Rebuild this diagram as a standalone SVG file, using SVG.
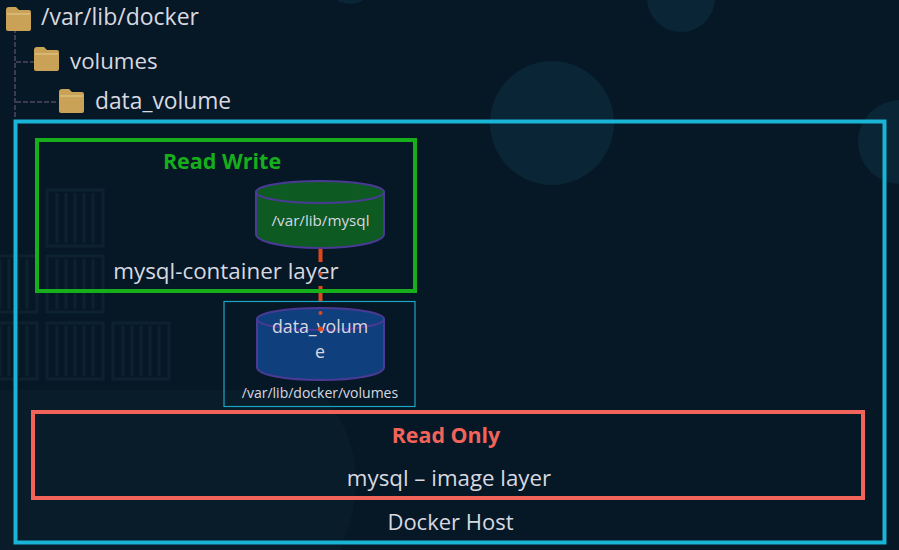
<svg xmlns="http://www.w3.org/2000/svg" width="899" height="550" viewBox="0 0 899 550">
<style>
text{font-family:"Open Sans","Noto Sans","Liberation Sans",sans-serif;fill:#d8d8e0}
.c{text-anchor:middle}
.bg{fill:#0a2536}
.crate{fill:none;stroke:#0c2231;stroke-width:3}
.slat{stroke:#0c2231;stroke-width:3}
.cyl{stroke:#4a3a96;stroke-width:2}
.folder{fill:#c9a257}
.tree{fill:none;stroke:#4f4763;stroke-width:1.5;stroke-dasharray:5 2}
.link{fill:none;stroke:#e0481a;stroke-width:4}
</style>
<defs>
<g id="crate"><rect class="crate" x="0" y="0" width="56" height="56"/><path class="slat" d="M10 3V53M19 3V53M28 3V53M37 3V53M46 3V53"/></g>
<g id="fld"><path class="folder" d="M0 4q0-3 3-3h7l3 3h10q2 0 2 2v17q0 2-2 2H2q-2 0-2-2z"/><path d="M1 8H24" stroke="#e6cd8e" stroke-width="1"/></g>
</defs>
<rect width="899" height="550" fill="#061826"/>
<g id="background">
<circle class="bg" cx="552" cy="123" r="62"/>
<circle class="bg" cx="681" cy="-2" r="34"/>
<circle class="bg" cx="350" cy="-20" r="24"/>
<circle class="bg" cx="900" cy="142" r="42"/>
<path d="M0 390H320Q380 460 340 550H0z" fill="#081c2a"/>
<use href="#crate" x="47" y="190"/><use href="#crate" x="47" y="256"/><use href="#crate" x="47" y="323"/>
<use href="#crate" x="-19" y="256"/><use href="#crate" x="-19" y="323"/><use href="#crate" x="113" y="323"/>
</g>
<g id="connectors">
<path class="tree" d="M15 28V118M16 62H34M16 102H58"/>
<path class="link" d="M320.500 248V262M320.500 286V301"/>
</g>
<g id="docker-host">
<rect x="15.500" y="121.500" width="869" height="421" fill="none" stroke="#19b4d6" stroke-width="4"/>
<text class="c" x="450.500" y="530" font-size="22">Docker Host</text>
</g>
<g id="folder-docker"><use href="#fld" x="6" y="6"/><text x="41" y="25" font-size="23">/var/lib/docker</text></g>
<g id="folder-volumes"><use href="#fld" x="34" y="46"/><text x="70" y="69" font-size="22.300">volumes</text></g>
<g id="folder-data-volume"><use href="#fld" x="59" y="88"/><text x="95" y="109" font-size="22.800">data_volume</text></g>
<g id="read-write">
<rect x="37" y="140" width="378" height="151" fill="none" stroke="#17ae1c" stroke-width="4"/>
<text class="c" x="222" y="169" font-size="21.500" font-weight="700" style="fill:#16ae1c">Read Write</text>
<text class="c" x="226" y="279" font-size="22.400">mysql-container layer</text>
<circle cx="320.500" cy="274" r="2" fill="#e0481a"/>
</g>
<g id="mysql-cylinder">
<path class="cyl" fill="#0e5a23" d="M256 192V234C256 242 285 248 320 248S384 242 384 234V192z"/>
<ellipse class="cyl" fill="#0e5a23" cx="320" cy="192" rx="64" ry="11"/>
<text class="c" x="320.500" y="226" font-size="15.200">/var/lib/mysql</text>
</g>
<g id="volume-box">
<rect x="224" y="301.500" width="191" height="105" fill="none" stroke="#1aa6c4" stroke-width="1.200"/>
<path class="cyl" fill="#0f3f7d" d="M257 319V367C257 375 285 380 320.500 380S384 375 384 367V319z"/>
<ellipse class="cyl" fill="#0f3f7d" cx="320.500" cy="319" rx="63.500" ry="11"/>
<text class="c" x="320" y="333" font-size="17.800">data_volum</text>
<text class="c" x="320" y="358" font-size="17.800">e</text>
<text class="c" x="320" y="398" font-size="14">/var/lib/docker/volumes</text>
<circle cx="320.500" cy="313" r="2" fill="#e0481a"/>
<circle cx="320.500" cy="329" r="2.500" fill="#e0481a"/>
</g>
<g id="read-only">
<rect x="33" y="412" width="830" height="86" fill="none" stroke="#f2635a" stroke-width="4"/>
<text class="c" x="446" y="443" font-size="21.400" font-weight="700" style="fill:#f2635a">Read Only</text>
<text class="c" x="449" y="486" font-size="22.300">mysql – image layer</text>
</g>
</svg>
